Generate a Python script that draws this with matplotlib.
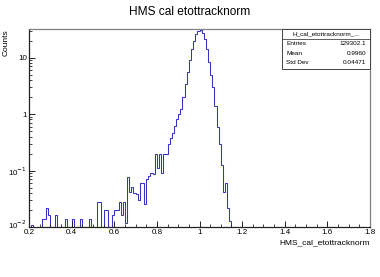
import numpy as np
import matplotlib
matplotlib.use("Agg")
import matplotlib.pyplot as plt
from matplotlib.patches import Rectangle
from matplotlib.lines import Line2D
from matplotlib.ticker import FixedLocator, NullFormatter
import matplotlib.transforms as mtransforms

plt.rcParams['font.family'] = ['Liberation Sans', 'DejaVu Sans']

# Histogram: bin left edges (width 0.01) and contents
bin_width = 0.01
bin_lefts = [0.21, 0.26, 0.27, 0.28, 0.29, 0.32, 0.37, 0.40, 0.44, 0.48,
             0.52, 0.53, 0.55, 0.56, 0.59, 0.60, 0.61, 0.62, 0.63, 0.64, 0.65,
             0.66, 0.67, 0.68, 0.69, 0.70, 0.71, 0.72, 0.73, 0.74, 0.75,
             0.76, 0.77, 0.78, 0.79, 0.80, 0.81, 0.82, 0.83, 0.84, 0.85,
             0.86, 0.87, 0.88, 0.89, 0.90, 0.91, 0.92, 0.93, 0.94, 0.95,
             0.96, 0.97, 0.98, 0.99, 1.00, 1.01, 1.02, 1.03, 1.04, 1.05,
             1.06, 1.07, 1.08, 1.09, 1.10, 1.11, 1.12, 1.13, 1.14]
bin_values = [0.011, 0.0137, 0.0137, 0.022, 0.016, 0.016, 0.0137, 0.0137, 0.0137, 0.0137,
              0.028, 0.028, 0.02, 0.02, 0.016, 0.02, 0.02, 0.028, 0.016, 0.028, 0.012,
              0.076, 0.042, 0.052, 0.04, 0.038, 0.03, 0.06, 0.06, 0.026, 0.07,
              0.08, 0.092, 0.085, 0.2, 0.11, 0.2, 0.09, 0.2, 0.2, 0.3,
              0.38, 0.47, 0.62, 0.8, 1.0, 1.25, 2.0, 3.4, 5.6, 9.0,
              14.0, 20.0, 26.0, 30.0, 30.5, 27.0, 21.0, 14.0, 8.5, 5.0,
              3.0, 1.4, 0.6, 0.3, 0.125, 0.042, 0.06, 0.022, 0.013]

x_ticks = [0.2, 0.4, 0.6, 0.8, 1.0, 1.2, 1.4, 1.6, 1.8]
x_tick_labels = ["0.2", "0.4", "0.6", "0.8", "1", "1.2", "1.4", "1.6", "1.8"]
y_ticks = [0.01, 0.1, 1, 10]
y_tick_labels = ["10$^{-2}$", "10$^{-1}$", "1", "10"]

title = "HMS cal etottracknorm"
x_title = "HMS_cal_etottracknorm"
y_title = "Counts"
stats_name = "H_cal_etottracknorm_..."
stats_rows = [("Entries", "129302.1"), ("Mean", "0.9960"), ("Std Dev", "0.04471")]

# full binning 0.2..1.8
edges = np.round(np.arange(0.2, 1.8 + 1e-9, bin_width), 4)
contents = np.full(len(edges) - 1, 1e-4)
for l, v in zip(bin_lefts, bin_values):
    idx = int(round((l - 0.2) / bin_width))
    contents[idx] = v

fig = plt.figure(figsize=(3.8, 2.77), dpi=100)
ax = fig.add_axes([29/380, 50/277, 341/380, 198/277])
ax.stairs(contents, edges, color='#3434c4', lw=0.75, baseline=None)
ax.set_yscale('log')
ax.set_xlim(0.2, 1.8)
ax.set_ylim(0.01, 32)

for s in ax.spines.values():
    s.set_color('#808080')
    s.set_linewidth(0.9)
ax.spines['bottom'].set_color('#222222')
ax.spines['left'].set_color('#222222')

ax.set_xticks(x_ticks)
ax.set_xticklabels(x_tick_labels, fontsize=5.8)
ax.xaxis.set_minor_locator(FixedLocator(np.arange(0.2, 1.801, 0.05)))
ax.set_yticks(y_ticks)
ax.set_yticklabels(y_tick_labels, fontsize=5.8)
minors = [m * 10.0**e for e in range(-2, 2) for m in range(2, 10)]
ax.yaxis.set_minor_locator(FixedLocator(minors))
ax.yaxis.set_minor_formatter(NullFormatter())
ax.tick_params(axis='both', which='major', direction='in', length=4, width=0.7,
               color='#222222', top=False, right=False)
ax.tick_params(axis='x', which='major', pad=1.8)
ax.tick_params(axis='y', which='major', pad=1.5)
ax.tick_params(axis='both', which='minor', direction='in', length=2, width=0.6,
               color='#222222', top=False, right=False)

# nudge the lowest y label slightly up so it does not collide with "0.2"
lbl = ax.get_yticklabels()[0]
lbl.set_transform(lbl.get_transform() + mtransforms.ScaledTranslation(0, 2.5/72, fig.dpi_scale_trans))

fig.text(190/380, 1 - 12/277, title, ha='center', va='center', fontsize=8.6)
fig.text(370/380, 1 - 242.5/277, x_title, ha='right', va='center', fontsize=6)
fig.text(6/380, 1 - 29/277, y_title, ha='center', va='top', rotation=90, fontsize=6)

# stats box
x0, x1 = 0.742, 1.0
y0, y1 = 0.798, 1.0
ysep = 0.948
ax.add_patch(Rectangle((x0, y0), x1 - x0, y1 - y0, transform=ax.transAxes,
                       facecolor='white', edgecolor='#444444', lw=0.7, zorder=5, clip_on=False))
ax.add_line(Line2D([x0, x1], [ysep, ysep], transform=ax.transAxes, color='#444444', lw=0.6, zorder=6))
ax.text((x0 + x1) / 2, (ysep + y1) / 2, stats_name, transform=ax.transAxes,
        ha='center', va='center', fontsize=4.6, zorder=7)
row_y = [(227 - 43.3) / 198, (227 - 53.3) / 198, (227 - 62.3) / 198]
for (k, v), yy in zip(stats_rows, row_y):
    ax.text(x0 + 0.012, yy, k, transform=ax.transAxes, ha='left', va='center', fontsize=4.6, zorder=7)
    ax.text(x1 - 0.01, yy, v, transform=ax.transAxes, ha='right', va='center', fontsize=4.6, zorder=7)

fig.savefig('out.png', dpi=100)
